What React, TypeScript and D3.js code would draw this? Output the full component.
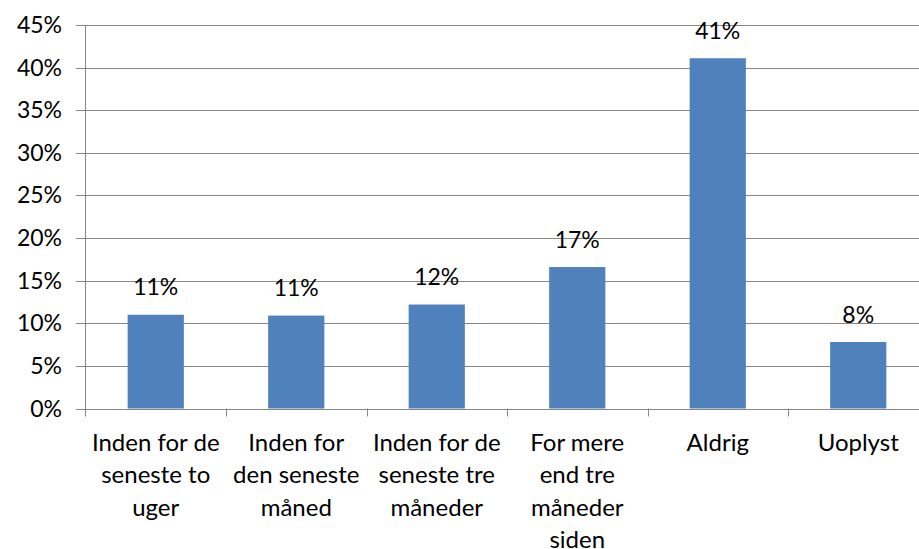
import React from "react";
import * as d3 from "d3";

const categories = [
  "Inden for de\nseneste to\nuger",
  "Inden for\nden seneste\nmåned",
  "Inden for de\nseneste tre\nmåneder",
  "For mere\nend tre\nmåneder\nsiden",
  "Aldrig",
  "Uoplyst",
];
const values = [0.11, 0.109, 0.122, 0.166, 0.411, 0.078];
const valueLabels = ["11%", "11%", "12%", "17%", "41%", "8%"];
const yTicks = [0, 0.05, 0.1, 0.15, 0.2, 0.25, 0.3, 0.35, 0.4, 0.45];

const W = 919;
const H = 549;
const left = 85.5;
const catW = 140.5;
const y0 = 408.5;
const yTop = 25;
const FONT = "Lato, 'Open Sans', sans-serif";
const FS = 23;
const FS_CAT = 24;

export default function App() {
  const x = d3
    .scaleBand<string>()
    .domain(categories)
    .range([left, left + catW * categories.length])
    .paddingInner(0.6)
    .paddingOuter(0.3);
  const y = d3.scaleLinear().domain([0, 0.45]).range([y0, yTop]);
  const fmt = d3.format(".0%");
  const band = d3.scaleBand<string>().domain(categories).range([left, left + catW * categories.length]);

  return (
    <div style={{ position: "fixed", left: 0, top: 0 }}>
      <svg width={W} height={H} style={{ display: "block", background: "#fff" }}>
        {yTicks.map((t) => (
          <g key={t}>
            <line x1={76} x2={W} y1={Math.round(y(t)) + 0.5} y2={Math.round(y(t)) + 0.5} stroke="#868686" strokeWidth={1} />
            <text x={62} y={y(t)} dy="0.35em" textAnchor="end" fontFamily={FONT} fontSize={FS} fill="#000">
              {fmt(t)}
            </text>
          </g>
        ))}
        <line x1={left} x2={left} y1={yTop} y2={y0 + 8} stroke="#868686" />
        {categories.map((c) => (
          <line key={"t" + c} x1={Math.round((band(c) as number) + catW) + 0.5} x2={Math.round((band(c) as number) + catW) + 0.5} y1={y0} y2={y0 + 8} stroke="#868686" />
        ))}
        {categories.map((c, i) => (
          <g key={c}>
            <rect x={x(c)} y={y(values[i])} width={x.bandwidth()} height={y0 - y(values[i])} fill="#4F81BD" />
            <text x={(x(c) as number) + x.bandwidth() / 2} y={y(values[i]) - 19.5} textAnchor="middle" fontFamily={FONT} fontSize={FS} fill="#000">
              {valueLabels[i]}
            </text>
            <text textAnchor="middle" fontFamily={FONT} fontSize={FS_CAT} fill="#000">
              {c.split("\n").map((ln, k) => (
                <tspan key={k} x={(x(c) as number) + x.bandwidth() / 2} y={450.7 + k * 32.5}>
                  {ln}
                </tspan>
              ))}
            </text>
          </g>
        ))}
      </svg>
    </div>
  );
}
